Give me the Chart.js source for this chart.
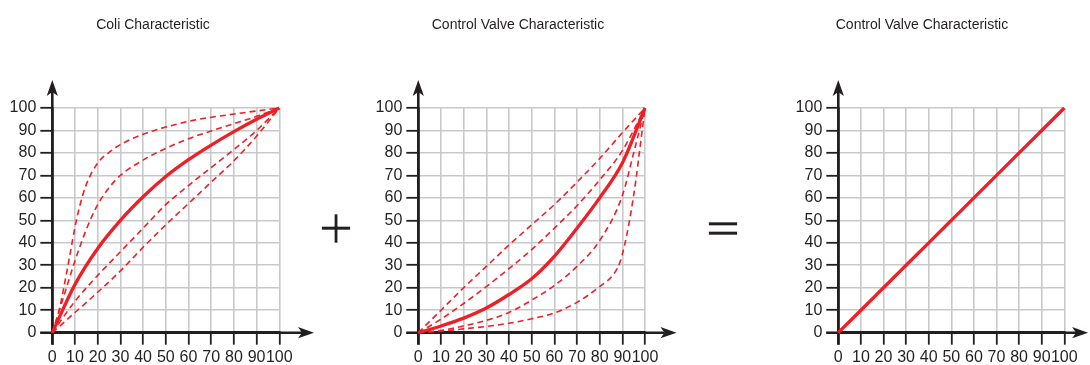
<!DOCTYPE html>
<html><head><meta charset="utf-8">
<script src="https://cdn.jsdelivr.net/npm/chart.js@4/dist/chart.umd.min.js"></script>
<style>
html,body{margin:0;padding:0;background:#fff;}
#wrap{position:relative;width:1090px;height:365px;overflow:hidden;background:#fff;}
canvas{position:absolute;top:0;}
.op{position:absolute;font-family:"DejaVu Sans",sans-serif;font-size:46px;line-height:1;color:#231f20;transform:translate(-50%,-50%);-webkit-text-stroke:0.7px #fff;}
.ttl{position:absolute;top:16px;font-family:"Liberation Sans",Arial,sans-serif;font-size:14px;line-height:16px;color:#231f20;white-space:nowrap;transform:translateX(-50%);}
</style></head><body>
<div id="wrap">
<canvas id="c1" width="360" height="365" style="left:0px"></canvas>
<canvas id="c2" width="370" height="365" style="left:360px"></canvas>
<canvas id="c3" width="360" height="365" style="left:730px"></canvas>
<div class="ttl" id="t1" style="left:153px"></div>
<div class="ttl" id="t2" style="left:518px"></div>
<div class="ttl" id="t3" style="left:922px"></div>
<div class="op" style="left:336px;top:226.5px">+</div>
<div class="op" style="left:723px;top:226.5px">=</div>
</div>
<script>
// ---- titles & ticks ----
const titles = ['Coli Characteristic', 'Control Valve Characteristic', 'Control Valve Characteristic'];
const tickValues = [0,10,20,30,40,50,60,70,80,90,100];
const tickLabels = ['0','10','20','30','40','50','60','70','80','90','100'];

// ---- Coil characteristic (chart 1) ----
const coilSteepX = [0,3,6,8,10,12,15,20,26,33,41,50,62,80,100];
const coilSteepY = [0,10,25,36,47,56,66,75.5,81,85.3,88.7,91.5,94.5,97.3,100];
const coilSecondX = [0,5,10,15,20,25,30,40,50,60,70,80,90,100];
const coilSecondY = [0,16,32,46,57,64.5,70,76.8,82,86.3,89.8,93,96.3,100];
const coilMainX = [0,10,20,30,40,50,60,70,80,90,100];
const coilMainY = [0,21.5,37.5,50,60.5,69.5,77,83.5,89.5,95,100];
const coilThirdX = [0,10,20,30,40,50,60,70,80,90,100];
const coilThirdY = [0,14,25.5,36,46.5,57,65.5,73.5,81.5,90,100];
const coilFourthX = [0,10,20,30,40,50,60,70,80,90,100];
const coilFourthY = [0,9,18,27.5,38,48,57.5,67,76.5,87.5,100];

// ---- Control valve characteristic (chart 2) ----
const valveFirstX = [0,10,20,30,40,50,60,70,80,90,100];
const valveFirstY = [0,10,20,29.5,39,48,57,67,77.5,89,100];
const valveSecondX = [0,10,20,30,40,50,60,70,80,90,100];
const valveSecondY = [0,6,13,20.5,28.5,37,46.5,56.5,68,81,100];
const valveMainX = [0,10,20,30,40,50,60,70,80,90,100];
const valveMainY = [0,3,6.5,11,17,24,34,46.5,60,75.5,100];
const valveThirdX = [0,10,20,30,40,50,60,70,80,90,95,100];
const valveThirdY = [0,1,3,5.5,9,14.5,21,29.5,41,61,80,100];
const valveFourthX = [0,10,20,30,40,50,60,70,80,86.5,89,91,93,94.5,96,97.5,100];
const valveFourthY = [0,0.7,1.7,2.8,4.2,6.2,8.8,13.5,20.5,26.5,31.5,39,49,58,68,80,100];

// ---- Resulting (linear) characteristic (chart 3) ----
const resultX = [0,10,20,30,40,50,60,70,80,90,100];
const resultY = [0,10,20,30,40,50,60,70,80,90,100];

const RED = '#ed1f27';
const INK = '#231f20';
const GRID = '#c9c9cb';
const FONT = '"Liberation Sans", Arial, sans-serif';

['t1','t2','t3'].forEach((id, i) => { document.getElementById(id).textContent = titles[i]; });

function pts(xs, ys) { return xs.map((x, i) => ({x: x, y: ys[i]})); }
function dashed(xs, ys) {
  return { data: pts(xs, ys), showLine: true, borderColor: RED, borderWidth: 1.6, borderDash: [6, 4],
    pointRadius: 0, fill: false, cubicInterpolationMode: 'monotone', clip: false };
}
function solid(xs, ys) {
  return { data: pts(xs, ys), showLine: true, borderColor: RED, borderWidth: 3.3,
    pointRadius: 0, fill: false, cubicInterpolationMode: 'monotone', clip: false };
}

const axisArrows = {
  id: 'axisArrows',
  beforeDatasetsDraw(chart, args, opts) {
    const ctx = chart.ctx;
    const xs = chart.scales.x, ys = chart.scales.y;
    const x0 = xs.getPixelForValue(0), y0 = ys.getPixelForValue(0);
    const xTip = xs.getPixelForValue(100) + opts.xExtra;
    const yTip = ys.getPixelForValue(100) - opts.yExtra;
    const L = 16, H = 5.6, N = 4;
    ctx.save();
    ctx.strokeStyle = opts.color; ctx.fillStyle = opts.color; ctx.lineWidth = opts.width;
    ctx.lineCap = 'butt';
    ctx.beginPath();
    ctx.moveTo(x0, y0 + opts.under); ctx.lineTo(x0, yTip + L - N);
    ctx.moveTo(x0 - opts.under, y0); ctx.lineTo(xTip - L + N, y0);
    ctx.stroke();
    ctx.beginPath();
    ctx.moveTo(x0, yTip); ctx.lineTo(x0 + H, yTip + L); ctx.lineTo(x0, yTip + L - N); ctx.lineTo(x0 - H, yTip + L);
    ctx.closePath(); ctx.fill();
    ctx.beginPath();
    ctx.moveTo(xTip, y0); ctx.lineTo(xTip - L, y0 - H); ctx.lineTo(xTip - L + N, y0); ctx.lineTo(xTip - L, y0 + H);
    ctx.closePath(); ctx.fill();
    ctx.restore();
  }
};

function axis(extra) {
  return Object.assign({
    type: 'linear', min: 0, max: 100,
    afterBuildTicks: s => { s.ticks = tickValues.map(v => ({value: v})); },
    grid: { color: GRID, lineWidth: 1.6, drawTicks: true, tickLength: 12, tickColor: INK, tickWidth: 1.8 },
    border: { display: true, color: INK, width: 2.6 },
    ticks: { color: INK, font: { family: FONT, size: 16 }, padding: 4, autoSkip: false, maxRotation: 0, minRotation: 0,
      callback: (v, i) => tickLabels[i] }
  }, extra);
}

function makeChart(id, datasets, yWidth, padRight, xExtra) {
  return new Chart(document.getElementById(id), {
    type: 'scatter',
    data: { datasets: datasets },
    options: {
      responsive: false, animation: false, events: [],
      layout: { padding: { left: 0, right: padRight, top: 108, bottom: 0 } },
      plugins: {
        legend: { display: false }, tooltip: { enabled: false }, title: { display: false },
        axisArrows: { xExtra: xExtra, yExtra: 28, under: 12, color: INK, width: 2.6 }
      },
      scales: {
        x: axis({ afterFit: s => { s.height = 32.3; }, ticks: { color: INK, font: { family: FONT, size: 16 }, padding: 3,
          autoSkip: false, maxRotation: 0, minRotation: 0, callback: (v, i) => tickLabels[i] } }),
        y: axis({ afterFit: s => { s.width = yWidth; } })
      }
    },
    plugins: [axisArrows]
  });
}

makeChart('c1', [
  dashed(coilSteepX, coilSteepY), dashed(coilSecondX, coilSecondY),
  dashed(coilThirdX, coilThirdY), dashed(coilFourthX, coilFourthY),
  solid(coilMainX, coilMainY)
], 52.3, 80.7, 34.7);

makeChart('c2', [
  dashed(valveFirstX, valveFirstY), dashed(valveSecondX, valveSecondY),
  dashed(valveThirdX, valveThirdY), dashed(valveFourthX, valveFourthY),
  solid(valveMainX, valveMainY)
], 58.3, 85, 31.5);

makeChart('c3', [
  solid(resultX, resultY)
], 108.3, 25.7, 23.8);
</script>
</body></html>
